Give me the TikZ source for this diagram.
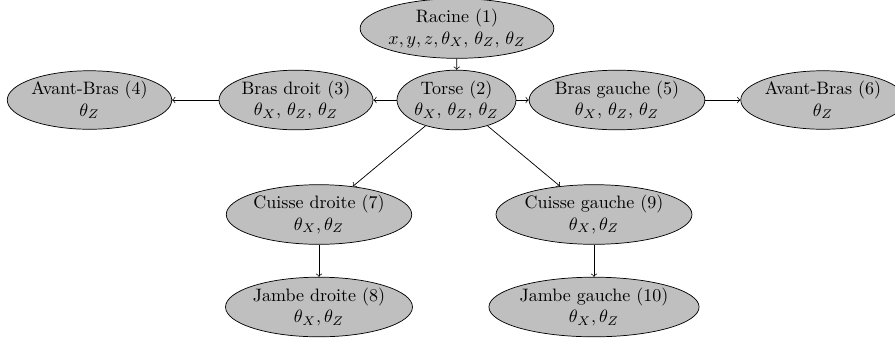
\documentclass[tikz,border=0pt]{standalone}
\usetikzlibrary{shapes.geometric}
\begin{document}
\begin{tikzpicture}[x=0.556pt,y=-0.556pt,
  joint/.style={ellipse,draw,fill=gray!50,inner xsep=0pt,inner ysep=1pt,align=center},
  link/.style={->}]
\useasboundingbox (0,0) rectangle (895,338);
\node[joint] (racine) at (457,28.5) {Racine (1)\\$x,y,z,\theta_X,\,\theta_Z,\,\theta_Z$};
\node[joint] (torse) at (456.5,100) {Torse (2)\\$\theta_X,\,\theta_Z,\,\theta_Z$};
\node[joint] (brasd) at (296,100) {Bras droit (3)\\$\theta_X,\,\theta_Z,\,\theta_Z$};
\node[joint] (avbd) at (89.5,100) {Avant-Bras (4)\\$\theta_Z$};
\node[joint] (brasg) at (617,100) {Bras gauche (5)\\$\theta_X,\,\theta_Z,\,\theta_Z$};
\node[joint] (avbg) at (823,100) {Avant-Bras (6)\\$\theta_Z$};
\node[joint] (cuissed) at (319,214.5) {Cuisse droite (7)\\$\theta_X,\theta_Z$};
\node[joint] (jambed) at (319,307) {Jambe droite (8)\\$\theta_X,\theta_Z$};
\node[joint] (cuisseg) at (594,214.5) {Cuisse gauche (9)\\$\theta_X,\theta_Z$};
\node[joint] (jambeg) at (594,307) {Jambe gauche (10)\\$\theta_X,\theta_Z$};
\draw[link] (racine) -- (torse);
\draw[link] (torse) -- (brasd);
\draw[link] (brasd) -- (avbd);
\draw[link] (torse) -- (brasg);
\draw[link] (brasg) -- (avbg);
\draw[link] (torse) -- (cuissed);
\draw[link] (torse) -- (cuisseg);
\draw[link] (cuissed) -- (jambed);
\draw[link] (cuisseg) -- (jambeg);
\end{tikzpicture}
\end{document}
